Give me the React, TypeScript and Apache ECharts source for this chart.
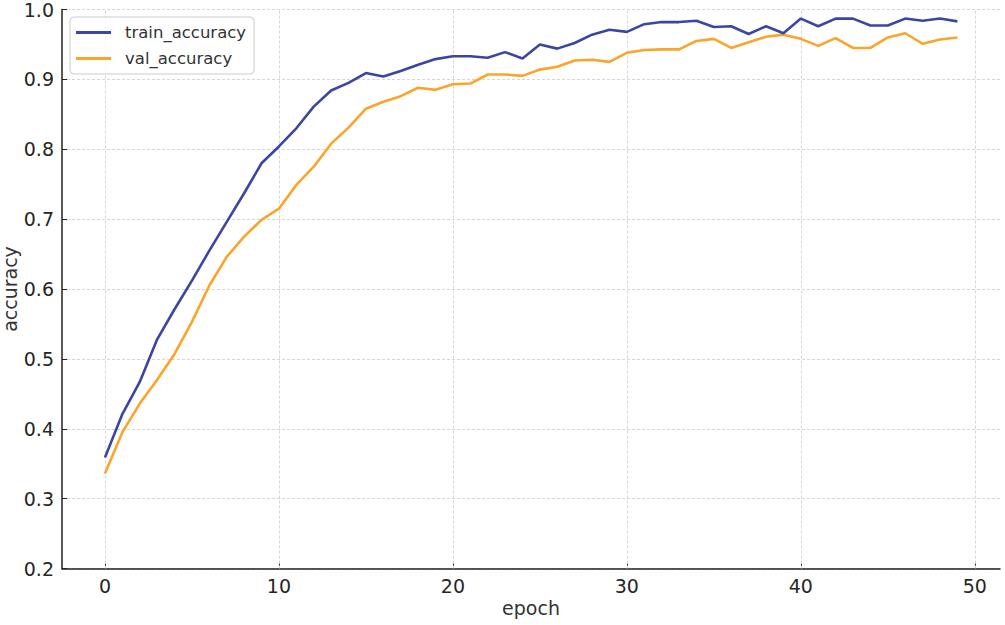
import React, { useEffect, useRef } from "react";
import * as echarts from "echarts";

const trainAccuracy = [
  0.359, 0.421, 0.467, 0.528, 0.571, 0.612, 0.655, 0.696, 0.737, 0.780,
  0.804, 0.830, 0.861, 0.884, 0.895, 0.909, 0.904, 0.912, 0.921, 0.929,
  0.933, 0.933, 0.931, 0.939, 0.930, 0.950, 0.944, 0.952, 0.964, 0.971,
  0.968, 0.979, 0.982, 0.982, 0.984, 0.975, 0.976, 0.965, 0.976, 0.966,
  0.987, 0.976, 0.987, 0.987, 0.977, 0.977, 0.987, 0.984, 0.987, 0.983,
];

const valAccuracy = [
  0.336, 0.395, 0.436, 0.470, 0.507, 0.553, 0.605, 0.646, 0.675, 0.699,
  0.715, 0.749, 0.775, 0.808, 0.831, 0.858, 0.868, 0.876, 0.888, 0.885,
  0.893, 0.894, 0.907, 0.907, 0.905, 0.914, 0.918, 0.927, 0.928, 0.925,
  0.938, 0.942, 0.943, 0.943, 0.955, 0.958, 0.945, 0.953, 0.961, 0.964,
  0.958, 0.948, 0.959, 0.945, 0.945, 0.960, 0.966, 0.951, 0.957, 0.960,
];

const xTicks = [0, 10, 20, 30, 40, 50];
const seriesNames = ["train_accuracy", "val_accuracy"];

const FONT = "DejaVu Sans";
const GRID_COLOR = "#d6d6d6";

export default function App() {
  const ref = useRef<HTMLDivElement>(null);

  useEffect(() => {
    if (!ref.current) return;
    const chart = echarts.init(ref.current, undefined, { renderer: "svg" });
    const toPairs = (arr: number[]) => arr.map((v, i) => [i, v]);

    chart.setOption({
      animation: false,
      backgroundColor: "#ffffff",
      textStyle: { fontFamily: FONT },
      grid: {
        left: 62,
        right: 5,
        top: 9.5,
        bottom: 56.5,
        containLabel: false,
        outerBoundsMode: "none",
      },
      legend: {
        orient: "vertical",
        left: 70,
        top: 17,
        data: seriesNames,
        icon: "rect",
        itemWidth: 35,
        itemHeight: 3,
        itemGap: 9,
        padding: [7, 8, 7, 6],
        borderColor: "#cccccc",
        borderWidth: 1,
        borderRadius: 4,
        backgroundColor: "rgba(255,255,255,0.8)",
        textStyle: { fontFamily: FONT, fontSize: 16.5, color: "#333333", padding: [0, 0, 0, 9] },
      },
      xAxis: {
        type: "value",
        min: -2.47,
        max: 51.45,
        name: "epoch",
        nameLocation: "middle",
        nameGap: 30,
        nameMoveOverlap: false,
        nameTextStyle: { fontFamily: FONT, fontSize: 19, color: "#333333" },
        axisLine: { show: true, onZero: false, lineStyle: { color: "#222222", width: 1.5 } },
        axisTick: { show: true, inside: true, length: 5, customValues: xTicks, lineStyle: { color: "#222222" } },
        axisLabel: { customValues: xTicks, fontFamily: FONT, fontSize: 19, color: "#262626", margin: 8 },
        splitLine: { show: false },
      },
      yAxis: {
        type: "value",
        min: 0.2,
        max: 1.0,
        interval: 0.1,
        name: "accuracy",
        nameLocation: "middle",
        nameGap: 43,
        nameMoveOverlap: false,
        nameTextStyle: { fontFamily: FONT, fontSize: 19, color: "#333333" },
        axisLine: { show: true, onZero: false, lineStyle: { color: "#222222", width: 1.5 } },
        axisTick: { show: true, inside: true, length: 5, lineStyle: { color: "#222222" } },
        axisLabel: {
          fontFamily: FONT,
          fontSize: 19,
          lineHeight: 16,
          color: "#262626",
          margin: 8,
          formatter: (v: number) => v.toFixed(1),
        },
        splitLine: { show: true, lineStyle: { color: GRID_COLOR, type: [3, 2], width: 1 } },
      },
      series: [
        {
          name: seriesNames[0],
          type: "line",
          data: toPairs(trainAccuracy),
          symbol: "none",
          showSymbol: false,
          lineStyle: { color: "#3b46a3", width: 2.6 },
          itemStyle: { color: "#3b46a3" },
          z: 3,
          markLine: {
            silent: true,
            symbol: ["none", "none"],
            label: { show: false },
            lineStyle: { color: GRID_COLOR, type: [3, 2], width: 1 },
            data: xTicks.map((t) => ({ xAxis: t })),
            z: 1,
          },
        },
        {
          name: seriesNames[1],
          type: "line",
          data: toPairs(valAccuracy),
          symbol: "none",
          showSymbol: false,
          lineStyle: { color: "#fba42b", width: 2.6 },
          itemStyle: { color: "#fba42b" },
          z: 2,
        },
      ],
    });

    return () => chart.dispose();
  }, []);

  return (
    <div
      ref={ref}
      style={{ position: "fixed", left: 0, top: 0, width: 1005, height: 625, background: "#fff" }}
    />
  );
}
